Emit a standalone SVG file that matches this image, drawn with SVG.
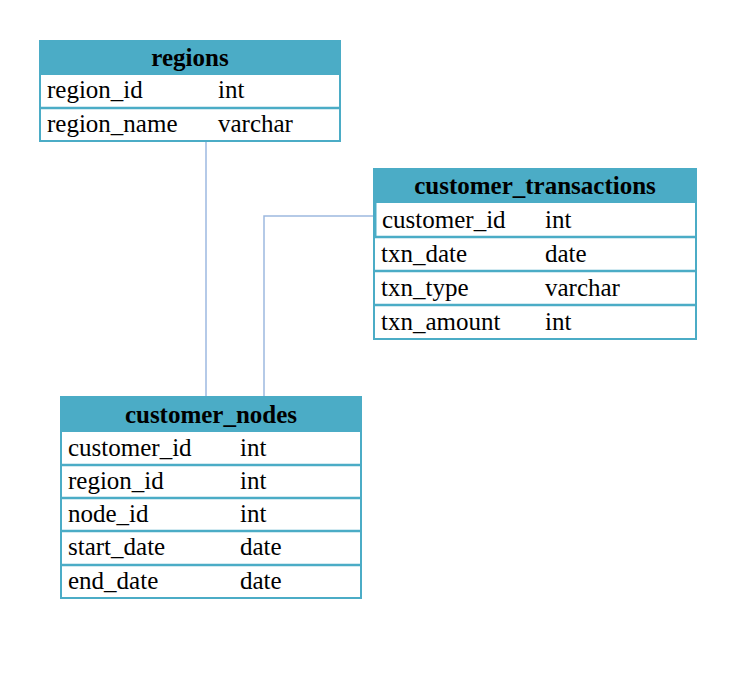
<svg xmlns="http://www.w3.org/2000/svg" width="730" height="695" viewBox="0 0 730 695">
<style>
.hdr{fill:#4BACC6;}
.box{fill:#fff;stroke:#4BACC6;stroke-width:2;}
.div{stroke:#4BACC6;stroke-width:2.5;}
.t{font-family:"Liberation Serif","Times New Roman",serif;font-size:25px;fill:#000;}
.h{font-family:"Liberation Serif","Times New Roman",serif;font-size:25px;font-weight:bold;fill:#000;text-anchor:middle;}
.conn{fill:none;stroke:#9DB9E0;stroke-width:1.5;}
</style>
<rect width="730" height="695" fill="#fff"/>
<g id="connectors">
<path class="conn" d="M206,141 V397"/>
<path class="conn" d="M375,216 H264 V397"/>
</g>
<g id="regions">
<rect class="box" x="40" y="41" width="300" height="100"/>
<rect class="hdr" x="40" y="41" width="300" height="34"/>
<line class="div" x1="40" y1="108" x2="340" y2="108"/>
<text class="h" x="190" y="66">regions</text>
<text class="t" x="47" y="98">region_id</text><text class="t" x="218" y="98">int</text>
<text class="t" x="47" y="132">region_name</text><text class="t" x="218" y="132">varchar</text>
</g>
<g id="customer_transactions">
<rect class="box" x="374" y="169" width="322" height="170"/>
<rect class="hdr" x="373" y="168" width="324" height="35"/>
<line class="div" x1="374" y1="237" x2="696" y2="237"/>
<line class="div" x1="374" y1="271" x2="696" y2="271"/>
<line class="div" x1="374" y1="305" x2="696" y2="305"/>
<line x1="375.5" y1="203" x2="375.5" y2="237" stroke="#4BACC6" stroke-width="2"/>
<text class="h" x="535" y="194">customer_transactions</text>
<text class="t" x="382" y="228">customer_id</text><text class="t" x="545" y="228">int</text>
<text class="t" x="381" y="262">txn_date</text><text class="t" x="545" y="262">date</text>
<text class="t" x="381" y="296">txn_type</text><text class="t" x="545" y="296">varchar</text>
<text class="t" x="381" y="330">txn_amount</text><text class="t" x="545" y="330">int</text>
</g>
<g id="customer_nodes">
<rect class="box" x="61" y="397" width="300" height="201"/>
<rect class="hdr" x="60" y="397" width="302" height="35"/>
<line class="div" x1="61" y1="465" x2="361" y2="465"/>
<line class="div" x1="61" y1="498" x2="361" y2="498"/>
<line class="div" x1="61" y1="531" x2="361" y2="531"/>
<line class="div" x1="61" y1="565" x2="361" y2="565"/>
<text class="h" x="211" y="423">customer_nodes</text>
<text class="t" x="68" y="456">customer_id</text><text class="t" x="240" y="456">int</text>
<text class="t" x="68" y="489">region_id</text><text class="t" x="240" y="489">int</text>
<text class="t" x="68" y="522">node_id</text><text class="t" x="240" y="522">int</text>
<text class="t" x="68" y="555">start_date</text><text class="t" x="240" y="555">date</text>
<text class="t" x="68" y="589">end_date</text><text class="t" x="240" y="589">date</text>
</g>
</svg>
